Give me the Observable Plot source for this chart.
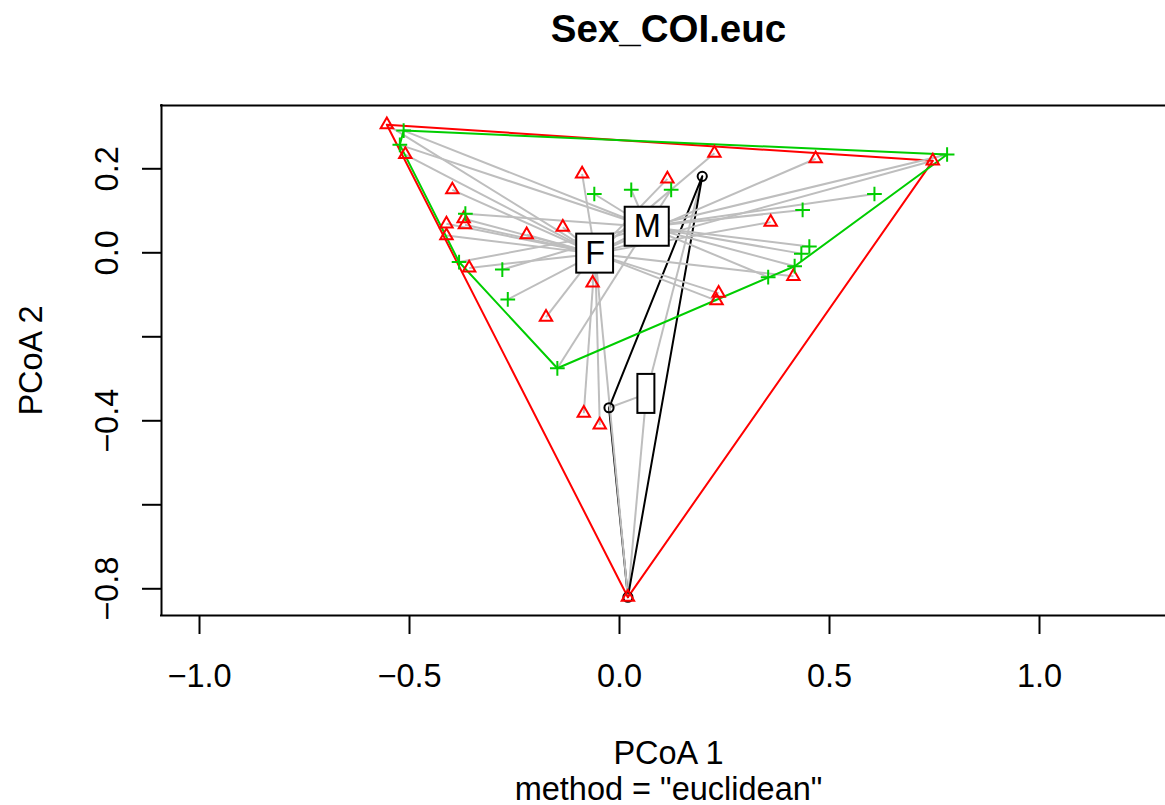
<!DOCTYPE html>
<html>
<head>
<meta charset="utf-8">
<script src="https://cdn.jsdelivr.net/npm/d3@7"></script>
<script src="https://cdn.jsdelivr.net/npm/@observablehq/plot@0.6"></script>
<style>
  body { margin: 0; background: #ffffff; }
  #chart svg { display: block; }
</style>
</head>
<body>
<div id="chart"></div>
<script>
// Levels of the grouping factor (the first level is an empty string)
const groups = ["", "F", "M"];

// PCoA site scores, one pair of arrays per group
const pc1Blank = [0.197, -0.025, 0.020];
const pc2Blank = [0.182, -0.369, -0.820];

const pc1F = [-0.554, -0.510, -0.398, -0.412, -0.371, -0.368, -0.412, -0.221, -0.135, -0.089, -0.358, -0.064,
              -0.175, -0.085, -0.047, 0.020, 0.114, 0.226, 0.467, 0.746, 0.360, 0.414, 0.236, 0.231];
const pc2F = [0.305, 0.234, 0.150, 0.069, 0.081, 0.067, 0.041, 0.043, 0.061, 0.188, -0.036, -0.072,
              -0.153, -0.382, -0.410, -0.820, 0.176, 0.237, 0.224, 0.219, 0.073, -0.056, -0.096, -0.114];

const pc1M = [-0.514, -0.523, -0.367, -0.382, -0.279, -0.266, -0.148, -0.060, 0.028, 0.123, 0.607, 0.436,
              0.452, 0.433, 0.417, 0.354, 0.780];
const pc2M = [0.291, 0.257, 0.093, -0.022, -0.040, -0.111, -0.275, 0.140, 0.150, 0.150, 0.140, 0.102,
              0.015, -0.002, -0.032, -0.058, 0.234];

// Group centroids (same order as groups)
const centroidPC1 = [0.064, -0.058, 0.066];
const centroidPC2 = [-0.336, -0.002, 0.062];

// Axis ticks
const xTicks = [-1.0, -0.5, 0.0, 0.5, 1.0];
const yTicks = [-0.8, -0.6, -0.4, -0.2, 0.0, 0.2];
const yTickLabels = [-0.8, -0.4, 0.0, 0.2];

// Texts
const titleText = "Sex_COI.euc";
const xLabel = "PCoA 1";
const yLabel = "PCoA 2";
const subLabel = 'method = "euclidean"';

// ---- layout & styles ----
const W = 1165, H = 805;
const margin = {top: 105, right: 0, bottom: 190, left: 161};
const xDomain = [-1.0905, 1.3];
const yDomain = [-0.8636, 0.3507];
const font = "'Liberation Sans', Arial, Helvetica, sans-serif";
const fontSize = 32.5;
const colors = ["black", "#FF0000", "#00CD00"];
const segColor = "#BEBEBE";
const markerR = 4.6;

// open "+" marker drawn as two strokes
const plusSymbol = {
  draw(context, size) {
    const a = Math.sqrt(size / Math.PI) * 1.6;
    context.moveTo(-a, 0); context.lineTo(a, 0);
    context.moveTo(0, -a); context.lineTo(0, a);
  }
};
const symbols = ["circle", "triangle", plusSymbol];

const pc1 = [pc1Blank, pc1F, pc1M];
const pc2 = [pc2Blank, pc2F, pc2M];
const sites = groups.map((g, i) => pc1[i].map((x, j) => ({group: g, x, y: pc2[i][j]})));

const marks = [];

// per group: segments to the centroid, then the convex hull
groups.forEach((g, i) => {
  const pts = sites[i];
  marks.push(Plot.link(pts, {
    x1: () => centroidPC1[i], y1: () => centroidPC2[i],
    x2: "x", y2: "y",
    stroke: segColor, strokeWidth: 2
  }));
  const hull = d3.polygonHull(pts.map(p => [p.x, p.y]));
  marks.push(Plot.line([...hull, hull[0]], {
    x: d => d[0], y: d => d[1],
    stroke: colors[i], strokeWidth: 2
  }));
});

// site points
groups.forEach((g, i) => {
  marks.push(Plot.dot(sites[i], {
    x: "x", y: "y", symbol: symbols[i], r: markerR,
    stroke: colors[i], fill: "none", strokeWidth: 2
  }));
});

// centroid labels in white boxes
const kx = (W - margin.left - margin.right) / (xDomain[1] - xDomain[0]);
const ky = (H - margin.top - margin.bottom) / (yDomain[1] - yDomain[0]);
const ctx = document.createElement("canvas").getContext("2d");
ctx.font = `${fontSize}px ${font}`;
const labels = groups.map((g, i) => {
  const hw = (ctx.measureText(g).width + 17) / 2 / kx;
  const hh = 19.5 / ky;
  const cx = centroidPC1[i], cy = centroidPC2[i];
  return {label: g, x: cx, y: cy, x1: cx - hw, x2: cx + hw, y1: cy - hh, y2: cy + hh};
});
marks.push(Plot.rect(labels, {x1: "x1", x2: "x2", y1: "y1", y2: "y2", fill: "white", stroke: "black", strokeWidth: 2}));
marks.push(Plot.text(labels, {x: "x", y: "y", text: "label", fontSize, fill: "black", lineAnchor: "middle"}));

// plot box (the right side lies beyond the page)
marks.push(Plot.ruleY([yDomain[1], yDomain[0]], {stroke: "black", strokeWidth: 2, strokeLinecap: "square"}));
marks.push(Plot.ruleX([xDomain[0]], {stroke: "black", strokeWidth: 2, strokeLinecap: "square"}));

// axes
const fmt = d3.format(".1f");
marks.push(Plot.axisX({ticks: xTicks, tickSize: 19, tickPadding: 29, tickFormat: fmt,
  strokeWidth: 2, fontSize, label: null}));
marks.push(Plot.axisY({ticks: yTicks, tickSize: 19, tickFormat: () => "", strokeWidth: 2, label: null}));
marks.push(Plot.text(yTickLabels, {y: d => d, frameAnchor: "left", dx: -54.4, rotate: -90,
  text: d => fmt(d), fontSize, textAnchor: "middle", lineAnchor: "middle", fill: "black"}));

// titles
marks.push(Plot.text([titleText], {frameAnchor: "top", dx: 5, dy: -76, fontSize: 38.5, fontWeight: "bold",
  lineAnchor: "middle", fill: "black"}));
marks.push(Plot.text([xLabel], {frameAnchor: "bottom", dx: 5, dy: 137.6, fontSize, lineAnchor: "middle", fill: "black"}));
marks.push(Plot.text([subLabel], {frameAnchor: "bottom", dx: 5, dy: 173.6, fontSize, lineAnchor: "middle", fill: "black"}));
marks.push(Plot.text([yLabel], {frameAnchor: "left", dx: -130, rotate: -90, fontSize, lineAnchor: "middle",
  textAnchor: "middle", fill: "black"}));

const chart = Plot.plot({
  width: W, height: H,
  marginTop: margin.top, marginRight: margin.right, marginBottom: margin.bottom, marginLeft: margin.left,
  x: {domain: xDomain},
  y: {domain: yDomain},
  style: {fontFamily: font, fontSize: `${fontSize}px`, background: "white", color: "black", overflow: "visible"},
  marks
});
document.getElementById("chart").appendChild(chart);
</script>
</body>
</html>
